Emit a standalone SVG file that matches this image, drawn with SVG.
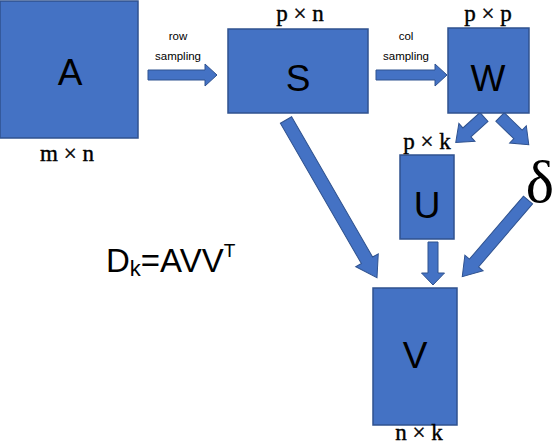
<svg xmlns="http://www.w3.org/2000/svg" width="554" height="446" viewBox="0 0 554 446">
<style>
.box{fill:#4472C4;stroke:#2F528F;stroke-width:1.5}
.arr{fill:#4472C4;stroke:#2F528F;stroke-width:1}
.big{font-family:"Liberation Sans",Arial,sans-serif;font-size:37px;fill:#000;text-anchor:middle}
.dim{font-family:"Liberation Serif","Times New Roman",serif;font-size:23px;fill:#000;stroke:#000;stroke-width:0.4;text-anchor:middle}
.small{font-family:"Liberation Sans",Arial,sans-serif;font-size:11.5px;fill:#000;text-anchor:middle}
</style>
<rect width="554" height="446" fill="#fff"/>
<g id="connectors">
  <polygon class="arr" transform="translate(148,75)" points="0,-5 57,-5 57,-11 69,0 57,11 57,5 0,5"/>
  <polygon class="arr" transform="translate(376,75)" points="0,-5 59,-5 59,-11 71,0 59,11 59,5 0,5"/>
  <polygon class="arr" transform="translate(286,120) rotate(60)" points="0,-6.5 162,-6.5 162,-13 182,0 162,13 162,6.5 0,6.5"/>
  <polygon class="arr" transform="translate(528,200) rotate(130.6)" points="0,-6 83,-6 83,-12 101,0 83,12 83,6 0,6"/>
  <polygon class="arr" transform="translate(484,117) rotate(138)" points="0,-6 23,-6 23,-12 38,0 23,12 23,6 0,6"/>
  <polygon class="arr" transform="translate(500,117) rotate(44)" points="0,-6 25,-6 25,-12 40,0 25,12 25,6 0,6"/>
  <polygon class="arr" transform="translate(433,242) rotate(90)" points="0,-5 31,-5 31,-11.5 43,0 31,11.5 31,5 0,5"/>
  <text class="small" x="178" y="40">row</text>
  <text class="small" x="178" y="60">sampling</text>
  <text class="small" x="406" y="40">col</text>
  <text class="small" x="406" y="60">sampling</text>
</g>
<g id="A">
  <rect class="box" x="0" y="1" width="138" height="137"/>
  <text class="big" x="70" y="85">A</text>
  <text class="dim" x="67" y="161">m × n</text>
</g>
<g id="S">
  <rect class="box" x="228" y="29" width="140" height="84"/>
  <text class="big" x="298" y="91">S</text>
  <text class="dim" x="300" y="21">p × n</text>
</g>
<g id="W">
  <rect class="box" x="448" y="28" width="81" height="85"/>
  <text class="big" x="488" y="91">W</text>
  <text class="dim" x="488" y="21">p × p</text>
</g>
<g id="U">
  <rect class="box" x="400" y="155" width="54" height="84"/>
  <text class="big" x="427" y="218">U</text>
  <text class="dim" x="427" y="149">p × k</text>
</g>
<g id="V">
  <rect class="box" x="373" y="288" width="84" height="137"/>
  <text class="big" x="415" y="368">V</text>
  <text class="dim" x="419" y="440">n × k</text>
</g>
<g id="delta">
  <text x="540" y="202" style="font-family:'Liberation Serif','Times New Roman',serif;font-size:60px;text-anchor:middle">δ</text>
</g>
<g id="formula">
  <text x="106" y="272" style="font-family:'Liberation Sans',Arial,sans-serif;font-size:33px">D<tspan font-size="22" dy="4">k</tspan><tspan dy="-4">=AVV</tspan><tspan font-size="19" dy="-15">T</tspan></text>
</g>
</svg>
